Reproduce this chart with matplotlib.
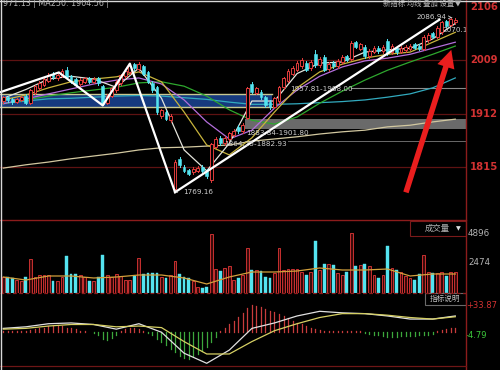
import matplotlib
matplotlib.use("Agg")
import matplotlib.pyplot as plt
from matplotlib.patches import Rectangle, FancyArrowPatch
from matplotlib.lines import Line2D

plt.rcParams['font.family'] = ['DejaVu Sans', 'Noto Sans CJK SC']

# ---------------- data ----------------
opens = [1935, 1942, 1938, 1933, 1937, 1945, 1932, 1950, 1958, 1965,
         1972, 1984, 1976, 1980, 1992, 1980, 1975, 1966, 1970, 1976,
         1970, 1976, 1962, 1932, 1945, 1955, 1968, 1980, 1988, 2002,
         1993, 1998, 1988, 1968, 1960, 1908, 1915, 1900, 1775, 1830,
         1815, 1809, 1806, 1808, 1815, 1808, 1792, 1852, 1868, 1858,
         1866, 1874, 1888, 1880, 1905, 1966, 1950, 1952, 1942, 1934,
         1925, 1935, 1960, 1972, 1985, 1992, 1998, 2005, 1995, 2020,
         2000, 2015, 1993, 2005, 1998, 2006, 2016, 2012, 2042, 2030,
         2034, 2016, 2025, 2032, 2026, 2045, 2024, 2032, 2025, 2028,
         2030, 2038, 2036, 2030, 2046, 2058, 2052, 2060, 2080, 2074,
         2078]
closes = [1942, 1937, 1933, 1938, 1942, 1932, 1955, 1962, 1968, 1975,
          1982, 1978, 1983, 1990, 1978, 1970, 1965, 1974, 1976, 1970,
          1975, 1968, 1930, 1945, 1958, 1970, 1982, 1990, 1998, 1995,
          2003, 1985, 1970, 1955, 1915, 1918, 1903, 1908, 1824, 1818,
          1808, 1803, 1812, 1814, 1808, 1798, 1856, 1866, 1858, 1868,
          1876, 1880, 1880, 1892, 1958, 1952, 1958, 1942, 1928, 1925,
          1940, 1960, 1976, 1990, 1995, 2004, 2009, 1992, 2006, 2000,
          2012, 1992, 2003, 1998, 2008, 2015, 2010, 2040, 2034, 2038,
          2016, 2026, 2032, 2026, 2034, 2022, 2036, 2024, 2032, 2034,
          2036, 2032, 2030, 2052, 2056, 2052, 2068, 2078, 2072, 2084,
          2083]
highs = [1945, 1944, 1940, 1941, 1945, 1947, 1957, 1965, 1971, 1978,
         1986, 1987, 1986, 1994, 1997, 1983, 1977, 1977, 1979, 1978,
         1978, 1979, 1964, 1948, 1961, 1973, 1985, 1993, 2002, 2005,
         2006, 2001, 1990, 1971, 1962, 1921, 1918, 1912, 1827, 1833,
         1818, 1812, 1815, 1817, 1818, 1811, 1858, 1869, 1871, 1871,
         1879, 1884, 1892, 1895, 1961, 1970, 1961, 1955, 1945, 1937,
         1943, 1963, 1979, 1993, 1998, 2007, 2013, 2008, 2010, 2028,
         2015, 2018, 2006, 2008, 2011, 2018, 2019, 2044, 2045, 2041,
         2037, 2029, 2035, 2035, 2037, 2048, 2039, 2035, 2035, 2037,
         2039, 2041, 2039, 2055, 2059, 2061, 2071, 2081, 2083, 2086.94,
         2086]
lows = [1932, 1934, 1930, 1931, 1935, 1929, 1930, 1948, 1955, 1962,
        1969, 1975, 1973, 1978, 1975, 1967, 1962, 1963, 1968, 1967,
        1968, 1965, 1927, 1929, 1942, 1952, 1965, 1977, 1985, 1992,
        1990, 1982, 1967, 1952, 1912, 1905, 1900, 1896, 1769.16, 1815,
        1805, 1800, 1803, 1805, 1805, 1795, 1788, 1849, 1855, 1855,
        1863, 1871, 1877, 1877, 1902, 1949, 1947, 1939, 1925, 1921,
        1922, 1932, 1957, 1969, 1982, 1989, 1995, 1989, 1992, 1997,
        1997, 1989, 1990, 1995, 1995, 2003, 2007, 2009, 2031, 2027,
        2013, 2013, 2022, 2023, 2023, 2019, 2021, 2021, 2022, 2025,
        2027, 2029, 2027, 2027, 2043, 2049, 2049, 2057, 2069, 2071,
        2075]
volumes = [1290, 1290, 1180, 1040, 1000, 1260, 2800, 1290, 1460, 1460,
           1460, 960, 1000, 1290, 3050, 1520, 1520, 1460, 1290, 960,
           1000, 1260, 3130, 1460, 1290, 1520, 1380, 1040, 1040, 1350,
           2900, 1530, 1600, 1600, 1600, 1290, 1180, 1460, 2660, 1520,
           1290, 1180, 1000, 490, 375, 490, 4890, 1960, 1820, 2040,
           2180, 1040, 1180, 1460, 3710, 1880, 1880, 1820, 1290, 1180,
           1600, 3740, 1880, 1960, 1960, 1960, 1670, 1460, 1670, 4330,
           1880, 2350, 2350, 2260, 1600, 1460, 1670, 4940, 2230, 2320,
           2350, 2230, 1460, 1180, 1460, 3910, 2040, 1880, 1740, 1380,
           1180, 1020, 1560, 3130, 1670, 1620, 1620, 1740, 1380, 1670,
           1740]
macd_hist = [1, 2, 1, 2, 2, 1, 3, 4, 5, 6,
             8, 8, 9, 8, 6, 5, 4, 2, 1, 0.5,
             -1, -3, -9, -10, -7, -3, 2, 4, 5, 5,
             4, 2, -1, -4, -9, -13, -16, -21, -25, -30,
             -33, -34, -31, -28, -24, -19, -12, -6, 1, 5,
             10, 15, 20, 25, 31, 35, 34, 32, 30, 28,
             26, 23, 21, 18, 15, 12, 10, 8, 6, 4,
             3, 2, 2, 2, 2, 2, 1, 2, 1, 1,
             -1, -2, -3, -4, -5, -6, -6, -6, -5, -5,
             -5, -5, -4, -4, -3, -2, 1, 3, 4, 5,
             5]

ma_idx = [0, 5, 10, 15, 20, 25, 30, 35, 40, 45, 50, 55, 60, 65, 70, 75, 80, 85, 90, 95, 100]
ma5 = [1940, 1956, 1975, 1980, 1975, 1960, 1995, 1940, 1846, 1808, 1858,
       1935, 1935, 1985, 2004, 2006, 2024, 2028, 2031, 2048, 2076]
ma10 = [1937, 1946, 1959, 1970, 1975, 1979, 1988, 1970, 1915, 1855, 1837,
        1868, 1915, 1959, 1988, 2002, 2013, 2020, 2024, 2042, 2060]
ma20 = [1930, 1939, 1948, 1957, 1966, 1973, 1977, 1966, 1937, 1897, 1866,
        1882, 1922, 1955, 1980, 1997, 2008, 2013, 2020, 2031, 2042]
ma60 = [1930, 1937, 1944, 1950, 1955, 1960, 1968, 1970, 1962, 1944, 1919,
        1900, 1893, 1906, 1931, 1953, 1973, 1991, 2006, 2020, 2035]
ma120 = [1931, 1935, 1939, 1940, 1942, 1944, 1945, 1944, 1941, 1938, 1933,
         1929, 1929, 1930, 1932, 1934, 1937, 1942, 1948, 1959, 1977]
ma250 = [1813, 1819, 1824, 1830, 1835, 1840, 1846, 1850, 1851, 1853, 1855,
         1862, 1866, 1870, 1875, 1879, 1882, 1888, 1891, 1897, 1902]
vol_ma = [1294, 1044, 1378, 1378, 1211, 1294, 1461, 1461, 1211, 710, 1294,
          1712, 1712, 1795, 2046, 1879, 1879, 1962, 1378, 1545, 1545]
dif = [5, 7, 11, 12, 10, 4, 11, 0, -27, -40, -23, 5, 12, 21, 27, 25, 24, 21, 17, 17, 21]
dea = [4, 5, 8, 10, 10, 7, 8, 6, -12, -28, -28, -12, 2, 11, 19, 24, 24, 22, 19, 17, 20]

zz_idx = [-0.7, 12.3, 22, 28, 38]
zz_val = [1951, 1987, 1927, 2003, 1769.16]
trend_idx = [38, 96.5]
trend_val = [1769.16, 2083]

price_ticks = [2106, 2009, 1912, 1815]
vol_ticks = [4896, 2474]
macd_ticks = [33.87, -4.79]
blue_zone = (1924, 1948)
gray_zone = (1884, 1902)

# ---------------- layout ----------------
W, H = 500, 370
RIGHT = 466
fig = plt.figure(figsize=(W / 100, H / 100), dpi=100)
fig.patch.set_facecolor('black')


def panel(top, bottom):
    a = fig.add_axes([0, 1 - bottom / H, RIGHT / W, (bottom - top) / H])
    a.set_facecolor('black')
    for s in a.spines.values():
        s.set_visible(False)
    a.set_xticks([])
    a.set_yticks([])
    a.set_xlim(-0.73, 102.37)
    return a


ax = panel(4, 219)
ax.set_ylim(1720.4, 2111.5)
axv = panel(221, 292.5)
axv.set_ylim(0, 5970)
axm = panel(294, 365)
axm.set_ylim(-42.2, 49.3)

RED = '#e23c3c'
CYAN = '#54e4f0'
GRID = '#5e1212'

# ---------------- main panel ----------------
for v in price_ticks[1:]:
    ax.axhline(v, color=GRID, lw=0.9, zorder=0)

ax.fill_between([-0.73, 59.5], blue_zone[0], blue_zone[1], color='#163a7e', zorder=1, lw=0)
ax.plot([-0.73, 59.5], [blue_zone[1]] * 2, color='#c8c890', lw=1.0, zorder=1.5)
ax.plot([-0.73, 59.5], [blue_zone[0]] * 2, color='#c8c890', lw=1.0, zorder=1.5)
ax.fill_between([53.5, 102.37], gray_zone[0], gray_zone[1], color='#6a6a6a', zorder=1, lw=0)
ax.plot([77, 102.37], [1958.6, 1958.6], color='#8a8a8a', lw=0.8, zorder=1.5)
ax.plot([63, 102.37], [1862, 1862], color='#6a6a6a', lw=0.7, zorder=1.5)

ma_styles = [(ma250, '#d2c8a0'), (ma120, '#32aabe'), (ma60, '#2ea82e'),
             (ma20, '#b46edc'), (ma10, '#c8b43c'), (ma5, '#e4e4dc')]
for vals, col in ma_styles:
    ax.plot(ma_idx, vals, color=col, lw=0.9, zorder=3)

bw = 0.62
for i in range(len(opens)):
    o, c, h, l = opens[i], closes[i], highs[i], lows[i]
    if c >= o:
        ax.add_patch(Rectangle((i - bw / 2, o), bw, max(c - o, 0.5), facecolor='black',
                               edgecolor=RED, lw=0.7, zorder=4))
        ax.plot([i, i], [c, h], color=RED, lw=0.7, zorder=4)
        ax.plot([i, i], [l, o], color=RED, lw=0.7, zorder=4)
    else:
        ax.add_patch(Rectangle((i - bw / 2, c), bw, o - c, facecolor=CYAN,
                               edgecolor=CYAN, lw=0.4, zorder=4))
        ax.plot([i, i], [l, h], color=CYAN, lw=0.7, zorder=4)

ax.plot(zz_idx, zz_val, color='white', lw=1.6, zorder=5)
ax.plot(trend_idx, trend_val, color='white', lw=1.6, zorder=5)

lab = dict(color='#cfcfcf', fontsize=5.2, va='center', ha='left', zorder=6)
ax.text(63.4, 1957, '1957.81-1988.00', **lab)
ax.text(53.7, 1877, '1883.84-1901.80', **lab)
ax.text(48.8, 1857, '1864.25-1882.93', **lab)
ax.annotate('1769.16', xy=(38.3, 1769.16), xytext=(39.8, 1769.16),
            arrowprops=dict(arrowstyle='-', color='#cfcfcf', lw=0.7), **lab)
ax.annotate('2086.94', xy=(99.3, 2086.94), xytext=(91.4, 2088),
            arrowprops=dict(arrowstyle='->', color='#cfcfcf', lw=0.6), **lab)
ax.text(97.1, 2064, '2070.18', clip_on=True, **lab)

arrow = FancyArrowPatch((88.9, 1764), (99.3, 2033),
                        arrowstyle='simple,head_length=1.6,head_width=1.6,tail_width=0.5',
                        mutation_scale=8, color='#ea1e1e', zorder=8, lw=0)
ax.add_patch(arrow)

for v in price_ticks:
    ax.text(1.0086, v, f'{v}', transform=ax.get_yaxis_transform(), color='#d23232',
            fontsize=7.2, fontweight='bold', va='center', ha='left', clip_on=False)

# ---------------- volume panel ----------------
for i, v in enumerate(volumes):
    if closes[i] >= opens[i]:
        axv.add_patch(Rectangle((i - bw / 2, 0), bw, v, facecolor='#3a0a0a',
                                edgecolor='#c83030', lw=0.7, zorder=3))
    else:
        axv.add_patch(Rectangle((i - bw / 2, 0), bw, v, facecolor=CYAN,
                                edgecolor=CYAN, lw=0.3, zorder=3))
axv.plot(ma_idx, vol_ma, color='#d2a03c', lw=0.9, zorder=4)
for v in vol_ticks:
    axv.text(1.0043, v, f'{v}', transform=axv.get_yaxis_transform(), color='#b4b4b4',
             fontsize=6.3, va='center', ha='left', clip_on=False)

# ---------------- MACD panel ----------------
for i, v in enumerate(macd_hist):
    axm.plot([i, i], [0, v], color='#c83c3c' if v > 0 else '#3ca83c', lw=0.9, zorder=3)
axm.plot(ma_idx, dif, color='#e0e0e0', lw=0.9, zorder=4)
axm.plot(ma_idx, dea, color='#d6d064', lw=0.9, zorder=4)
axm.text(1.0, macd_ticks[0], '+33.87', transform=axm.get_yaxis_transform(), color='#d23232',
         fontsize=6.0, va='center', ha='left', clip_on=False)
axm.text(1.0, macd_ticks[1], '-4.79', transform=axm.get_yaxis_transform(), color='#3cc83c',
         fontsize=6.0, va='center', ha='left', clip_on=False)

# ---------------- frame & decorations ----------------
def fline(xs, ys, **kw):
    fig.add_artist(Line2D([x / W for x in xs], [1 - y / H for y in ys],
                          transform=fig.transFigure, **kw))

fline([RIGHT, RIGHT], [0, H], color='#8c1c1c', lw=1.0)
fline([0, RIGHT], [220, 220], color='#8c1c1c', lw=1.0)
fline([0, RIGHT], [293, 293], color='#8c1c1c', lw=0.9, ls=(0, (3, 2)))
fline([0, RIGHT], [365.5, 365.5], color='#6e1616', lw=0.9)
fline([0.5, 0.5], [0, H], color='#d8d8d8', lw=1.0)
fline([0, W], [0.5, 0.5], color='#d8d8d8', lw=1.0)

fig.add_artist(Rectangle((410 / W, 1 - 236 / H), 56 / W, 15 / H, transform=fig.transFigure,
                         facecolor='black', edgecolor='#7a1a1a', lw=0.8))
fig.text(437 / W, 1 - 228.5 / H, '成交量', color='#b4b4b4', fontsize=6,
         ha='center', va='center', family=['Noto Sans CJK SC', 'DejaVu Sans'])
fig.text(458 / W, 1 - 228.5 / H, '▼', color='#e0e0e0', fontsize=4.5, ha='center', va='center')
fig.add_artist(Rectangle((425 / W, 1 - 305 / H), 41 / W, 12 / H, transform=fig.transFigure,
                         facecolor='black', edgecolor='#6a6a6a', lw=0.8))
fig.text(445.5 / W, 1 - 299 / H, '指标说明', color='#c0c0c0', fontsize=5.5,
         ha='center', va='center', family=['Noto Sans CJK SC', 'DejaVu Sans'])

fig.text(3 / W, 1 - 3.5 / H, '971.13 | MA250: 1904.56 |', color='#b4b4b4', fontsize=5.8,
         ha='left', va='center')
fig.text(462 / W, 1 - 3.5 / H, '新指标 均线 叠加 设置▼', color='#b4b4b4', fontsize=5.3,
         ha='right', va='center', family=['Noto Sans CJK SC', 'DejaVu Sans'])

fig.savefig('out.png', dpi=100, facecolor='black')
